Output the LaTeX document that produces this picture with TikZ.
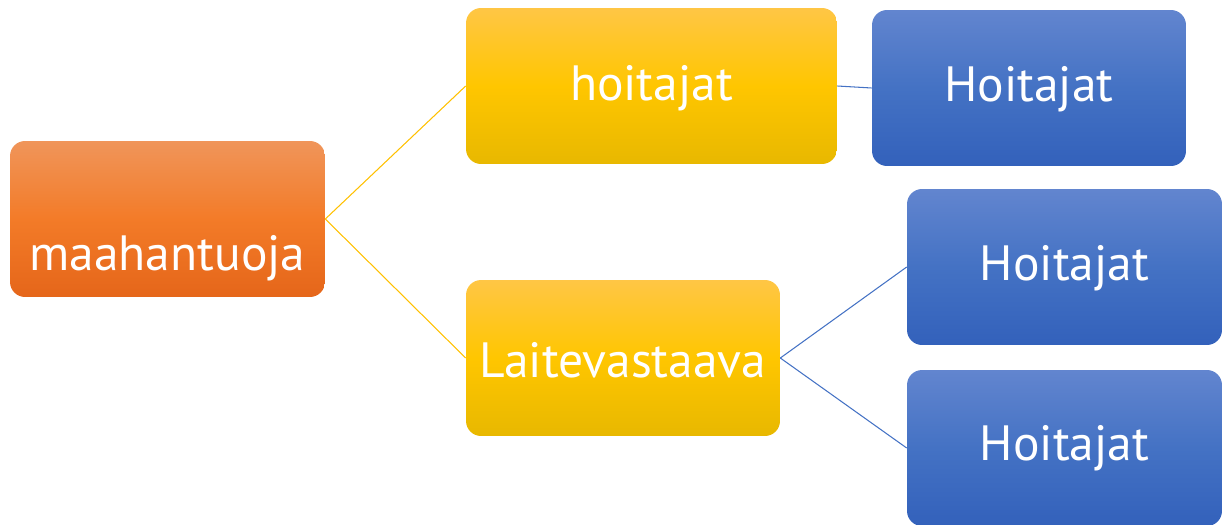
\documentclass[tikz,border=0pt]{standalone}
\usepackage{fontspec}
\setmainfont{PT Sans}
\definecolor{oTop}{HTML}{F0955A}
\definecolor{oMid}{HTML}{F37B28}
\definecolor{oBot}{HTML}{E5661A}
\definecolor{yTop}{HTML}{FFC645}
\definecolor{yMid}{HTML}{FFC600}
\definecolor{yBot}{HTML}{E8B800}
\definecolor{bTop}{HTML}{6285CF}
\definecolor{bMid}{HTML}{4472C4}
\definecolor{bBot}{HTML}{3361BB}
\definecolor{yLine}{HTML}{FFC000}
\definecolor{bLine}{HTML}{4472C4}
\tikzset{
  box/.style={rectangle, rounded corners=0.3cm, minimum height=3.12cm, inner sep=0pt,
    text=white, font=\fontsize{28.2}{33}\selectfont},
  orangebox/.style={box, top color=oTop, bottom color=oBot, middle color=oMid},
  yellowbox/.style={box, top color=yTop, bottom color=yBot, middle color=yMid},
  bluebox/.style={box, top color=bTop, bottom color=bBot, middle color=bMid},
  yconn/.style={draw=yLine, line width=0.6pt},
  bconn/.style={draw=bLine, line width=0.6pt},
  lbl/.style={text=white, font=\fontsize{28.2}{33}\selectfont, inner sep=0pt}
}
\begin{document}
\begin{tikzpicture}[x=0.02cm, y=-0.02cm]
\useasboundingbox (0,0) rectangle (1230,524);
\clip (0,0) rectangle (1230,524);
\node[orangebox, minimum width=6.3cm] (m) at (167.5,219) {};
\node[lbl] (mt) at (167.5,258) {maahantuoja};
\node[yellowbox, minimum width=7.42cm] (h1) at (651.5,86) {};
\node[lbl] (h1t) at (651.5,88) {hoitajat};
\node[yellowbox, minimum width=6.28cm] (l) at (623,358) {};
\node[lbl] (lt) at (623,360) {Laitevastaava};
\node[bluebox, minimum width=6.28cm] (b1) at (1029,88) {};
\node[lbl] (b1t) at (1029,89) {Hoitajat};
\node[bluebox, minimum width=6.3cm] (b2) at (1064.5,267) {};
\node[lbl] (b2t) at (1064.5,268) {Hoitajat};
\node[bluebox, minimum width=6.3cm] (b3) at (1064.5,448) {};
\node[lbl] (b3t) at (1064.5,448) {Hoitajat};
\draw[yconn] (m.east) -- (h1.west);
\draw[yconn] (m.east) -- (l.west);
\draw[bconn] (h1.east) -- (b1.west);
\draw[bconn] (l.east) -- (b2.west);
\draw[bconn] (l.east) -- (b3.west);
\end{tikzpicture}
\end{document}
